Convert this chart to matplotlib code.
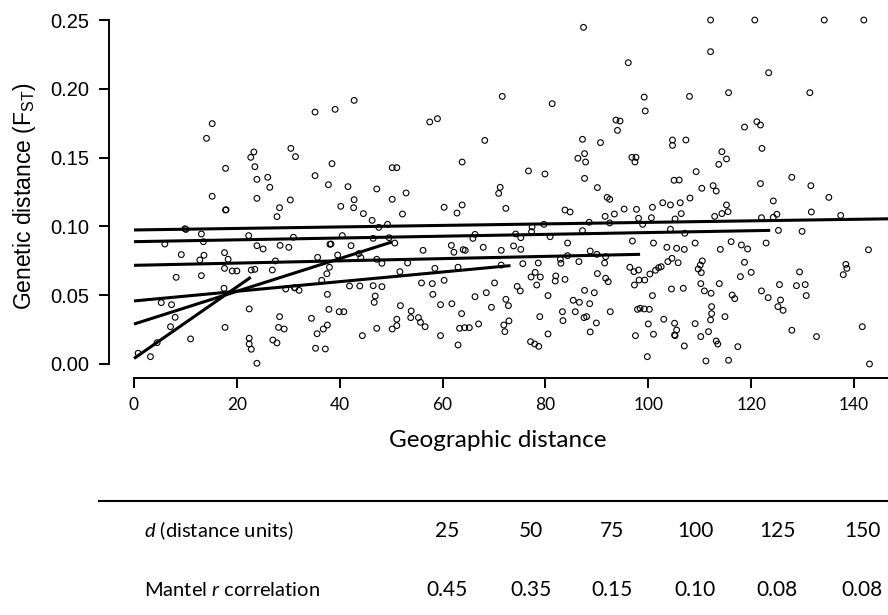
import matplotlib
matplotlib.use('Agg')
import matplotlib.pyplot as plt
import numpy as np
from matplotlib.lines import Line2D

plt.rcParams['mathtext.fontset'] = 'custom'
plt.rcParams['mathtext.rm'] = 'Liberation Sans'
plt.rcParams['mathtext.it'] = 'Lato:italic'

# pairwise geographic distance vs genetic distance (Fst)
geo_dist = [
    15.2, 14.1, 23.3, 22.7, 17.8, 23.5, 23.9, 15.2, 23.9, 17.8, 17.9, 9.9, 10.1, 13.1, 22.3,
    6.0, 13.5, 23.9, 9.2, 13.6, 12.8, 17.6, 18.3, 17.6, 19.1, 20.0, 22.8, 23.5, 8.2, 13.1,
    17.5, 5.3, 7.3, 8.0, 7.1, 22.4, 17.7, 11.0, 4.5, 0.8, 3.2, 22.4, 22.4, 22.8, 23.9,
    42.8, 39.1, 35.2, 30.5, 31.4, 38.5, 35.2, 26.0, 26.4, 37.8, 41.6, 47.2, 30.4, 28.3, 27.8,
    42.8, 42.7, 40.2, 44.6, 46.3, 47.6, 46.5, 40.5, 31.0, 25.1, 30.1, 28.4, 38.1, 38.3, 42.2,
    35.7, 39.6, 43.7, 44.1, 38.0, 37.5, 36.5, 27.5, 26.9, 29.5, 47.2, 48.2, 41.9, 43.9, 46.5,
    48.2, 46.9, 46.7, 37.6, 31.2, 31.3, 32.1, 28.3, 28.1, 29.2, 27.0, 27.8, 37.9, 39.9, 40.8,
    34.5, 37.6, 36.8, 35.6, 47.2, 44.4, 35.3, 37.2,
    71.6, 57.5, 59.0, 68.2, 63.8, 50.2, 51.1, 71.2, 70.9, 52.9, 50.2, 52.2, 60.3, 63.8, 62.8,
    72.3, 49.3, 49.6, 50.7, 56.2, 61.7, 62.2, 64.0, 64.4, 65.9, 66.3, 67.9, 71.4, 53.2, 51.7,
    58.5, 63.0, 71.4, 55.9, 58.0, 60.3, 58.1, 59.6, 61.8, 63.7, 66.3, 68.5, 70.1, 69.5, 72.3,
    72.8, 51.8, 53.9, 53.8, 55.3, 55.7, 56.6, 51.1, 51.1, 50.2, 59.6, 63.3, 64.3, 65.2, 67.0,
    63.0, 71.9, 72.9, 72.1,
    87.4, 96.1, 81.3, 93.7, 94.5, 94.0, 87.2, 90.7, 87.6, 86.3, 87.8, 96.8, 97.6, 97.4, 76.7,
    79.9, 87.6, 90.1, 92.0, 92.5, 83.8, 84.8, 91.6, 93.4, 95.3, 97.7, 77.4, 79.7, 88.5, 92.5,
    74.2, 75.2, 77.3, 80.9, 87.2, 84.3, 96.9, 73.8, 75.2, 75.6, 78.6, 82.9, 83.0, 84.3, 86.5,
    88.7, 90.0, 91.7, 91.5, 96.4, 97.2, 77.2, 78.0, 79.0, 78.3, 82.0, 81.9, 83.8, 90.1, 91.7,
    92.2, 97.3, 74.5, 75.1, 80.5, 87.6, 89.5, 85.4, 86.6, 88.6, 83.3, 83.4, 85.8, 87.5, 88.0,
    89.9, 88.7, 92.6, 97.9, 97.5, 78.9, 80.5, 77.1, 77.9, 78.7,
    112.1, 120.7, 112.1, 99.2, 99.4, 108.0, 115.6, 118.7, 121.1, 121.8, 122.1, 104.7, 104.7, 107.3, 114.3,
    115.2, 113.7, 109.3, 105.0, 106.0, 110.4, 112.6, 113.2, 121.8, 100.8, 102.8, 104.3, 106.2, 106.4, 108.1,
    100.6, 98.1, 98.9, 104.3, 105.2, 107.1, 112.9, 114.3, 115.2, 115.5, 122.0, 101.0, 103.6, 105.5, 107.0,
    109.1, 114.0, 116.1, 118.1, 119.3, 103.8, 104.6, 105.8, 100.3, 101.4, 102.0, 102.5, 98.1, 98.2, 99.3,
    109.7, 110.5, 110.1, 110.3, 118.7, 120.0, 117.9, 100.8, 104.5, 106.8, 110.2, 110.9, 112.2, 113.8, 116.3,
    116.8, 122.0, 98.4, 99.2, 100.2, 103.0, 100.0, 101.0, 105.1, 105.5, 105.1, 105.2, 107.0, 109.1, 110.2,
    111.7, 112.3, 112.3, 112.1, 114.9, 113.2, 113.5, 117.4, 99.8, 111.2, 115.6,
    134.2, 141.9, 123.4, 131.4, 127.9, 131.6, 124.3, 135.1, 125.0, 124.3, 131.7, 137.4, 122.9, 125.3, 129.9,
    142.8, 138.4, 138.6, 137.9, 129.4, 125.5, 128.8, 130.5, 130.7, 123.3, 125.7, 125.2, 126.2, 127.9, 132.7,
    141.6, 143.0,
]
gen_dist = [
    .1747, .1640, .1541, .1502, .1422, .1434, .1342, .1219, .1204, .1119, .1121, .0983, .0978, .0945, .0933,
    .0872, .0889, .0860, .0795, .0790, .0756, .0809, .0761, .0695, .0676, .0676, .0683, .0688, .0630, .0642,
    .0550, .0446, .0431, .0339, .0271, .0400, .0266, .0182, .0155, .0078, .0053, .0187, .0145, .0107, .0005,
    .1916, .1851, .1831, .1567, .1507, .1456, .1369, .1357, .1284, .1303, .1289, .1272, .1192, .1136, .1071,
    .1194, .1136, .1146, .1093, .1044, .0993, .0913, .0933, .0921, .0836, .0848, .0862, .0870, .0872, .0860,
    .0775, .0792, .0802, .0773, .0703, .0656, .0608, .0749, .0683, .0545, .0761, .0732, .0567, .0567, .0569,
    .0562, .0494, .0448, .0506, .0555, .0553, .0535, .0344, .0266, .0254, .0174, .0153, .0397, .0380, .0380,
    .0332, .0283, .0254, .0220, .0259, .0206, .0114, .0109,
    .1945, .1759, .1783, .1625, .1468, .1427, .1427, .1284, .1240, .1243, .1197, .1090, .1139, .1156, .1097,
    .1131, .1015, .0918, .0879, .0826, .0862, .0812, .0831, .0826, .0913, .0942, .0848, .0826, .0734, .0671,
    .0695, .0703, .0719, .0589, .0584, .0608, .0506, .0431, .0438, .0366, .0489, .0518, .0589, .0412, .0470,
    .0424, .0424, .0385, .0337, .0337, .0303, .0271, .0325, .0279, .0254, .0206, .0259, .0264, .0264, .0291,
    .0138, .0283, .0313, .0235,
    .2447, .2190, .1892, .1773, .1766, .1698, .1633, .1609, .1529, .1495, .1468, .1502, .1502, .1468, .1403,
    .1381, .1349, .1282, .1211, .1197, .1119, .1105, .1073, .1090, .1126, .1124, .0996, .1015, .1030, .1025,
    .0945, .0918, .0962, .0925, .0969, .0879, .0894, .0858, .0833, .0729, .0734, .0761, .0732, .0787, .0744,
    .0821, .0797, .0780, .0734, .0703, .0671, .0632, .0666, .0632, .0574, .0640, .0603, .0615, .0657, .0623,
    .0598, .0574, .0564, .0531, .0497, .0535, .0518, .0463, .0448, .0438, .0380, .0315, .0380, .0337, .0344,
    .0298, .0233, .0380, .0397, .0206, .0344, .0218, .0162, .0145, .0128,
    .2500, .2500, .2270, .1940, .1839, .1945, .1972, .1722, .1761, .1737, .1567, .1628, .1589, .1628, .1543,
    .1490, .1451, .1398, .1335, .1337, .1277, .1296, .1257, .1311, .1139, .1172, .1156, .1172, .1093, .1206,
    .1063, .1059, .1015, .0979, .1054, .0950, .1073, .1093, .1156, .1107, .1063, .0879, .0848, .0841, .0833,
    .0879, .0833, .0889, .0865, .0836, .0744, .0768, .0736, .0654, .0681, .0700, .0707, .0683, .0610, .0610,
    .0690, .0749, .0719, .0664, .0739, .0666, .0635, .0497, .0545, .0550, .0584, .0531, .0514, .0584, .0501,
    .0475, .0531, .0405, .0400, .0397, .0325, .0291, .0216, .0296, .0247, .0211, .0206, .0131, .0293, .0199,
    .0235, .0417, .0366, .0320, .0344, .0167, .0145, .0126, .0053, .0022, .0027,
    .2500, .2500, .2117, .1972, .1357, .1296, .1185, .1211, .1088, .1066, .1105, .1080, .0879, .0971, .0964,
    .0830, .0724, .0695, .0649, .0669, .0577, .0569, .0577, .0497, .0482, .0465, .0417, .0390, .0245, .0199,
    .0271, .0000,
]

# one regression per distance class d
d_classes = ['25', '50', '75', '100', '125', '150']
mantel_r = ['0.45', '0.35', '0.15', '0.10', '0.08', '0.08']
intercepts = [0.004, 0.029, 0.0458, 0.0717, 0.0889, 0.0974]
slopes = [0.0026, 0.00119, 0.000351, 0.0000813, 0.0000663, 0.0000553]
fit_max = [22.7, 50.2, 73.2, 98.4, 123.7, 150]

W, H = 888, 615
fig = plt.figure(figsize=(W / 100, H / 100), dpi=100)
ax = fig.add_axes([109 / W, 237 / H, 779 / W, 368 / H])

ax.scatter(geo_dist, gen_dist, s=17, facecolors='none', edgecolors='black',
           linewidths=0.8, zorder=2)
for b, m, xe in zip(intercepts, slopes, fit_max):
    xs = np.array([0, xe])
    ax.plot(xs, b + m * xs, color='black', lw=2.2, solid_capstyle='butt', zorder=3)

ax.set_xlim(-4.86, 146.6)
ax.set_ylim(-0.0102, 0.2573)
for s in ['top', 'right']:
    ax.spines[s].set_visible(False)
for s in ['left', 'bottom']:
    ax.spines[s].set_linewidth(1.4)
ax.spines['left'].set_bounds(0, 0.25)
ax.spines['bottom'].set_bounds(0, 146.6)

xt = list(range(0, 141, 20))
yt = [0, 0.05, 0.10, 0.15, 0.20, 0.25]
ax.set_xticks(xt)
ax.set_xticklabels([str(v) for v in xt], fontfamily='Lato', fontsize=12.5)
ax.set_yticks(yt)
ax.set_yticklabels([f'{v:.2f}' for v in yt], fontfamily='Liberation Sans', fontsize=14.5)
ax.tick_params(direction='out', length=7, width=1.4, pad=7)

fig.text(498 / W, 1 - 446.7 / H, 'Geographic distance', ha='center', va='baseline',
         fontfamily='Lato', fontsize=17.5)
fig.text(25 / W, 1 - 196 / H, r'Genetic distance (F$_{\rm ST}$)', rotation=90,
         ha='center', va='center', fontfamily='Liberation Sans', fontsize=16.5)

# table under the plot
fig.add_artist(Line2D([99 / W, 1], [1 - 501 / H, 1 - 501 / H], transform=fig.transFigure,
                      color='black', lw=1.5))
col_x = [447, 531, 612, 695, 777, 862]
row1_y = 1 - 536.7 / H
row2_y = 1 - 596 / H
fig.text(144 / W, row1_y, r'$d$ (distance units)', ha='left', va='baseline',
         fontfamily='Lato', fontsize=14.5)
fig.text(144 / W, row2_y, r'Mantel $r$ correlation', ha='left', va='baseline',
         fontfamily='Lato', fontsize=14.5)
for cx, dv, rv in zip(col_x, d_classes, mantel_r):
    fig.text(cx / W, row1_y, dv, ha='center', va='baseline', fontfamily='Lato', fontsize=15)
    fig.text(cx / W, row2_y, rv, ha='center', va='baseline', fontfamily='Lato', fontsize=15)

fig.savefig('out.png', dpi=100)
